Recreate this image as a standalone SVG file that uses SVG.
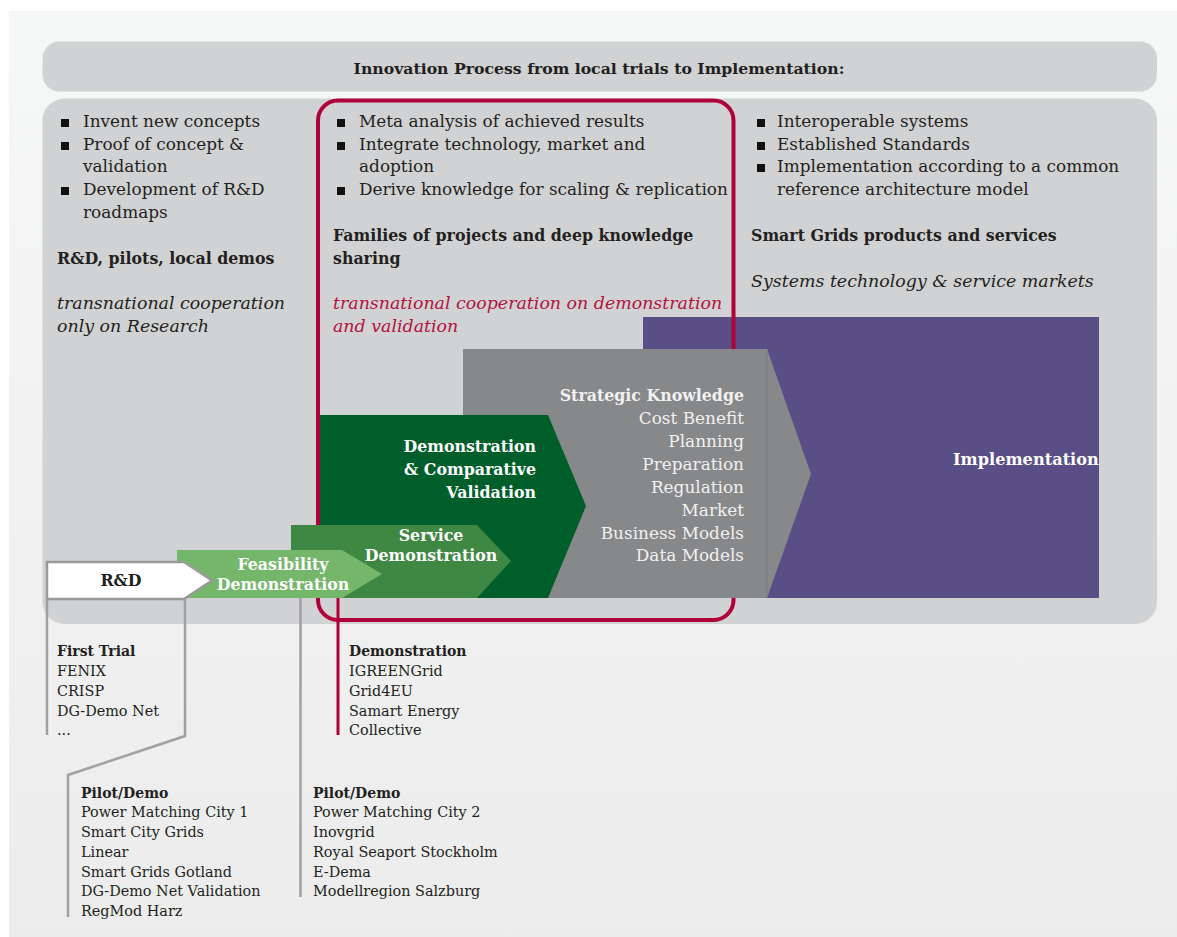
<svg xmlns="http://www.w3.org/2000/svg" width="1177" height="937" viewBox="0 0 1177 937">
<defs>
<linearGradient id="bg" x1="0" y1="0" x2="0" y2="1">
<stop offset="0" stop-color="#f6f7f7"/>
<stop offset="1" stop-color="#ebeceb"/>
</linearGradient>
<style>
text{font-family:"DejaVu Serif","Liberation Serif",serif;fill:#231f20}
.t{font-size:16.9px}
.b{font-weight:bold;font-size:15.8px}
.i{font-style:italic;font-size:17.4px}
.red{fill:#b3123f}
.s{font-size:14.4px}
.sb{font-size:14px;font-weight:bold}
.w{fill:#ffffff}
.lw{fill:#f1f1f1}
.bul{fill:#111}
.gl{stroke:#a0a0a0;stroke-width:2.5;fill:none}
</style>
</defs>
<rect x="0" y="0" width="1177" height="937" fill="#ffffff"/>
<rect x="9" y="11" width="1168" height="926" fill="url(#bg)"/>

<g id="title">
<rect x="42.5" y="41.5" width="1114.5" height="50" rx="17" fill="#d1d2d4"/>
<text x="599" y="74" text-anchor="middle" style="font-size:15.7px;font-weight:bold">Innovation Process from local trials to Implementation:</text>
</g>

<g id="panel">
<rect x="42.5" y="98.5" width="1114.5" height="525.5" rx="22" fill="#d1d2d4"/>
</g>

<g id="col-rd">
<rect class="bul" x="61" y="119" width="8" height="8"/>
<rect class="bul" x="61" y="142" width="8" height="8"/>
<rect class="bul" x="61" y="187" width="8" height="8"/>
<text class="t" x="83" y="127">Invent new concepts</text>
<text class="t" x="83" y="150">Proof of concept &amp;</text>
<text class="t" x="83" y="172">validation</text>
<text class="t" x="83" y="195">Development of R&amp;D</text>
<text class="t" x="83" y="218">roadmaps</text>
<text class="b" x="57" y="264">R&amp;D, pilots, local demos</text>
<text class="i" x="57" y="309">transnational cooperation</text>
<text class="i" x="57" y="332">only on Research</text>
</g>

<g id="implementation">
<rect x="643" y="317" width="456" height="281" fill="#5a4e86"/>
<text class="w" x="953" y="465" style="font-size:16.2px;font-weight:bold">Implementation</text>
</g>

<g id="families">
<rect x="318" y="100.5" width="415.5" height="519.5" rx="20" fill="none" stroke="#b0003a" stroke-width="4"/>
<rect class="bul" x="337" y="119" width="8" height="8"/>
<rect class="bul" x="337" y="142" width="8" height="8"/>
<rect class="bul" x="337" y="187" width="8" height="8"/>
<text class="t" x="359" y="127">Meta analysis of achieved results</text>
<text class="t" x="359" y="150">Integrate technology, market and</text>
<text class="t" x="359" y="172">adoption</text>
<text class="t" x="359" y="195">Derive knowledge for scaling &amp; replication</text>
<text class="b" x="333" y="241">Families of projects and deep knowledge</text>
<text class="b" x="333" y="264">sharing</text>
<text class="i red" x="333" y="309">transnational cooperation on demonstration</text>
<text class="i red" x="333" y="332">and validation</text>
</g>

<g id="col-products">
<rect class="bul" x="757" y="119" width="8" height="8"/>
<rect class="bul" x="757" y="142" width="8" height="8"/>
<rect class="bul" x="757" y="164" width="8" height="8"/>
<text class="t" x="777" y="127">Interoperable systems</text>
<text class="t" x="777" y="150">Established Standards</text>
<text class="t" x="777" y="172">Implementation according to a common</text>
<text class="t" x="777" y="195">reference architecture model</text>
<text class="b" x="751" y="241">Smart Grids products and services</text>
<text class="i" x="751" y="287">Systems technology &amp; service markets</text>
</g>

<g id="strategic-knowledge">
<polygon points="463,349 767,349 811,474 767,598 463,598" fill="#87888a"/>
<line x1="767" y1="349" x2="767" y2="598" stroke="#7c7d80" stroke-width="1"/>
<text class="b lw" text-anchor="end" x="744" y="401">Strategic Knowledge</text>
<text class="t lw" text-anchor="end" x="744" y="424">Cost Benefit</text>
<text class="t lw" text-anchor="end" x="744" y="447">Planning</text>
<text class="t lw" text-anchor="end" x="744" y="470">Preparation</text>
<text class="t lw" text-anchor="end" x="744" y="493">Regulation</text>
<text class="t lw" text-anchor="end" x="744" y="516">Market</text>
<text class="t lw" text-anchor="end" x="744" y="539">Business Models</text>
<text class="t lw" text-anchor="end" x="744" y="561">Data Models</text>
</g>

<g id="comparative-validation">
<polygon points="320,415 548,415 586,506 548,598 320,598" fill="#005e2a"/>
<text class="b w" text-anchor="end" x="536" y="452">Demonstration</text>
<text class="b w" text-anchor="end" x="536" y="475">&amp; Comparative</text>
<text class="b w" text-anchor="end" x="536" y="498">Validation</text>
</g>

<g id="service-demonstration">
<polygon points="291,525 477,525 511,561 477,598 291,598" fill="#3e8843"/>
<text class="b w" text-anchor="middle" x="431" y="541">Service</text>
<text class="b w" text-anchor="middle" x="431" y="561">Demonstration</text>
</g>

<g id="feasibility-demonstration">
<polygon points="177,550 342,550 382,574 342,598 177,598" fill="#74b76b"/>
<text class="b w" text-anchor="middle" x="283" y="570">Feasibility</text>
<text class="b w" text-anchor="middle" x="283" y="590">Demonstration</text>
</g>

<g id="rd">
<polygon points="47,562 184,562 212,580.5 184,599 47,599" fill="#ffffff" stroke="#9a9a9a" stroke-width="2.5"/>
<text class="b" text-anchor="middle" x="121" y="586">R&amp;D</text>
</g>

<g id="connectors">
<polyline class="gl" points="47,599 47,735"/>
<polyline class="gl" points="185,599 185,736 68,775 68,917"/>
<polyline class="gl" points="300.5,598 300.5,897"/>
<line x1="338" y1="598" x2="338" y2="735" stroke="#b0003a" stroke-width="3"/>
</g>

<g id="first-trial">
<text class="sb" x="57" y="656">First Trial</text>
<text class="s" x="57" y="676">FENIX</text>
<text class="s" x="57" y="696">CRISP</text>
<text class="s" x="57" y="716">DG-Demo Net</text>
<text class="s" x="57" y="735">...</text>
</g>

<g id="pilot-demo-1">
<text class="sb" x="81" y="798">Pilot/Demo</text>
<text class="s" x="81" y="817">Power Matching City 1</text>
<text class="s" x="81" y="837">Smart City Grids</text>
<text class="s" x="81" y="857">Linear</text>
<text class="s" x="81" y="877">Smart Grids Gotland</text>
<text class="s" x="81" y="896">DG-Demo Net Validation</text>
<text class="s" x="81" y="916">RegMod Harz</text>
</g>

<g id="demonstration-list">
<text class="sb" x="349" y="656">Demonstration</text>
<text class="s" x="349" y="676">IGREENGrid</text>
<text class="s" x="349" y="696">Grid4EU</text>
<text class="s" x="349" y="716">Samart Energy</text>
<text class="s" x="349" y="735">Collective</text>
</g>

<g id="pilot-demo-2">
<text class="sb" x="313" y="798">Pilot/Demo</text>
<text class="s" x="313" y="817">Power Matching City 2</text>
<text class="s" x="313" y="837">Inovgrid</text>
<text class="s" x="313" y="857">Royal Seaport Stockholm</text>
<text class="s" x="313" y="877">E-Dema</text>
<text class="s" x="313" y="896">Modellregion Salzburg</text>
</g>
</svg>
